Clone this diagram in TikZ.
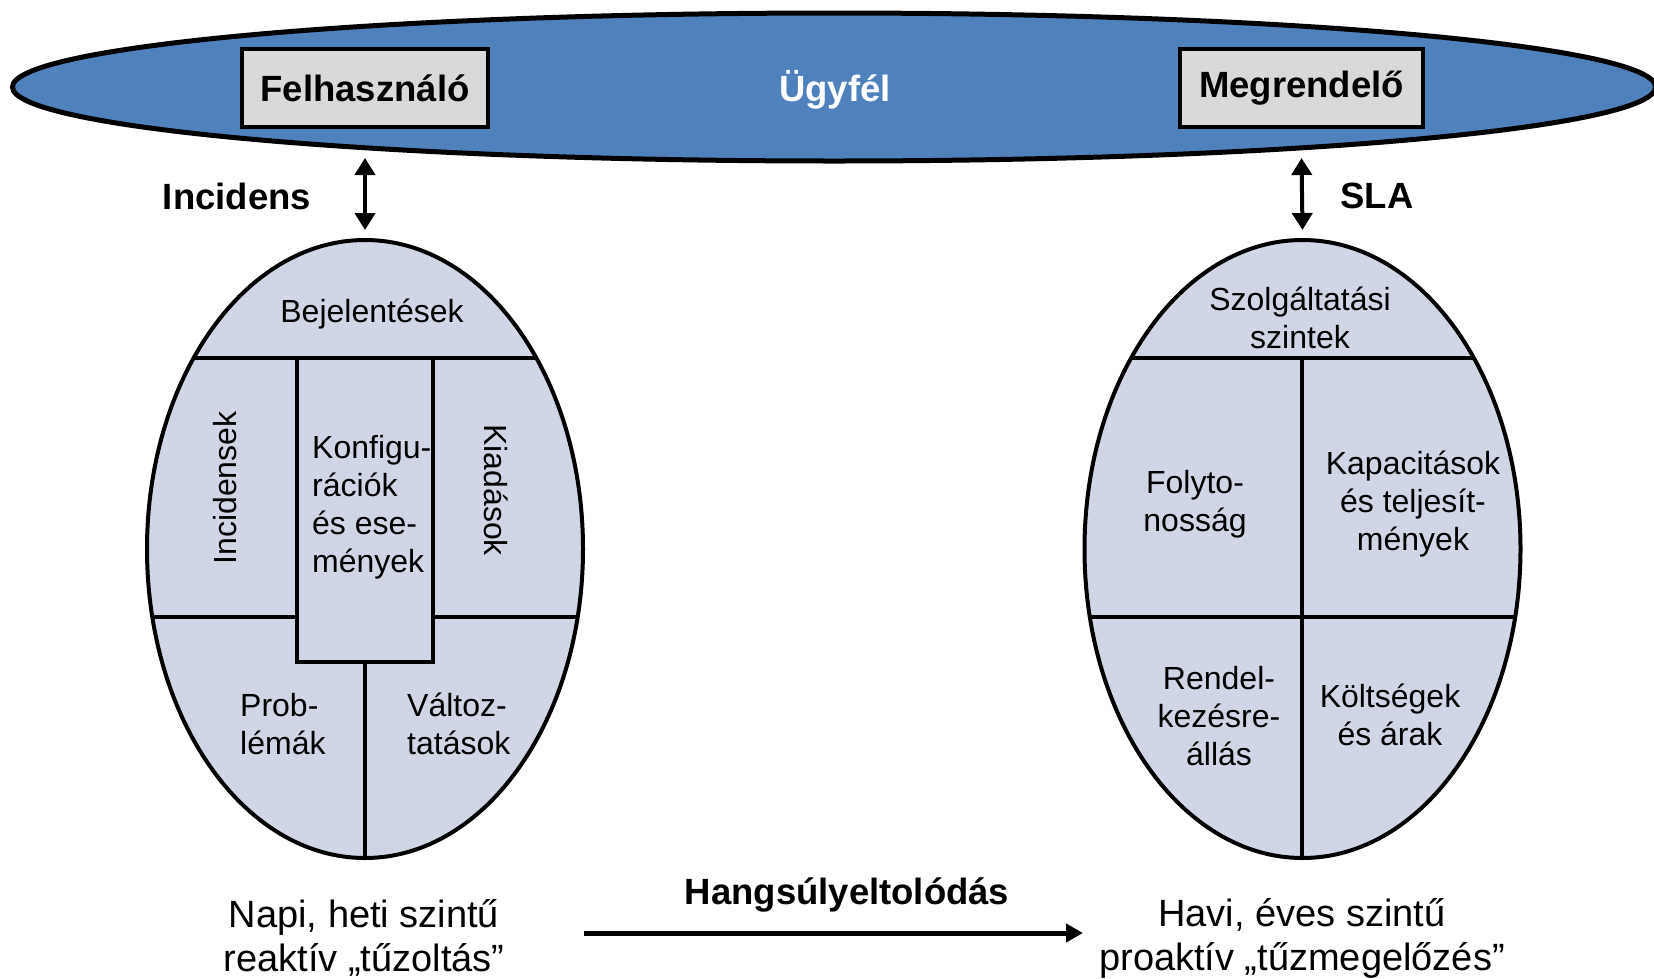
\documentclass[tikz,border=0pt]{standalone}
\usepackage{fontspec}
\setmainfont{Liberation Sans}
\usetikzlibrary{shapes.geometric,arrows.meta}
\definecolor{ublue}{RGB}{79,129,189}
\definecolor{ovfill}{RGB}{208,214,229}
\definecolor{boxgray}{RGB}{217,217,217}
\begin{document}
\begin{tikzpicture}[x=1pt,y=-1pt,
  bigoval/.style={ellipse, draw, line width=4pt, fill=ovfill, minimum width=436pt, minimum height=618pt, inner sep=0pt},
  divline/.style={line width=4pt},
  rolebox/.style={draw, line width=4pt, fill=boxgray, minimum width=246pt, minimum height=78pt, inner sep=0pt, font=\bfseries\fontsize{36.5}{40}\selectfont},
  lbl/.style={font=\fontsize{32}{38}\selectfont, inner sep=0pt, align=center},
  lbll/.style={font=\fontsize{32}{38}\selectfont, inner sep=0pt, align=left, anchor=west},
  boldlbl/.style={font=\bfseries\fontsize{36.5}{40}\selectfont, inner sep=0pt},
  btxt/.style={font=\fontsize{38}{44}\selectfont, inner sep=0pt, align=center},
  dblarrow/.style={line width=4pt, {Triangle[length=17pt,width=20pt]}-{Triangle[length=17pt,width=20pt]}},
  shiftarrow/.style={line width=5pt, -{Triangle[length=17pt,width=18pt]}}
]
\useasboundingbox (0,0) rectangle (1654,978);

% customer ellipse
\node[ellipse, draw, line width=5pt, fill=ublue, minimum width=1643pt, minimum height=148pt, inner sep=0pt] (U) at (834,87) {};
\node[boldlbl, text=white] (Ut) at (835,90) {Ügyfél};
\node[rolebox] (F) at (365,88) {Felhasználó};
\node[rolebox, minimum width=243pt] (M) at (1301.5,88) {Megrendelő};

% left oval
\node[bigoval] (L) at (365,549) {};
\begin{scope}
  \clip (L.center) ellipse [x radius=218pt, y radius=309pt];
  \draw[divline] (100,358) -- (700,358);
  \draw[divline] (100,617) -- (297,617);
  \draw[divline] (433,617) -- (700,617);
  \draw[divline] (365,662) -- (365,900);
\end{scope}
\node[draw, line width=4pt, fill=ovfill, minimum width=136pt, minimum height=304pt, inner sep=0pt] (K) at (365,510) {};
\node[lbl] (bej) at (372,314) {Bejelentések};
\node[lbl, rotate=90] (inc) at (225,488) {Incidensek};
\node[lbl, rotate=-90] (kia) at (496,490) {Kiadások};
\node[lbll] (kon) at (312,507) {Konfigu-\\rációk\\és ese-\\mények};
\node[lbll] (pro) at (240,724) {Prob-\\lémák};
\node[lbll] (val) at (407,724) {Változ-\\tatások};

% right oval
\node[bigoval] (R) at (1302.5,549) {};
\begin{scope}
  \clip (R.center) ellipse [x radius=218pt, y radius=309pt];
  \draw[divline] (1000,358) -- (1600,358);
  \draw[divline] (1000,617) -- (1600,617);
  \draw[divline] (1302,358) -- (1302,900);
\end{scope}
\node[lbl] (szo) at (1300,318) {Szolgáltatási\\szintek};
\node[lbl] (fol) at (1195,504) {Folyto-\\nosság};
\node[lbl] (kap) at (1413,504) {Kapacitások\\és teljesít-\\mények};
\node[lbl] (ren) at (1219,716) {Rendel-\\kezésre-\\állás};
\node[lbl] (kol) at (1390,715) {Költségek\\és árak};

% arrows between customer and ovals
\draw[dblarrow] ([yshift=-29pt]F.south) -- ([yshift=8pt]L.north);
\draw[dblarrow] ([yshift=-29pt]M.south) -- ([yshift=8pt]R.north);
\node[boldlbl] (inclbl) at (237,196) {Incidens};
\node[boldlbl] (slalbl) at (1377,196) {SLA};

% bottom
\node[btxt] (napi) at (364,938) {Napi, heti szintű\\reaktív „tűzoltás”};
\node[btxt] (havi) at (1302,938) {Havi, éves szintű\\proaktív „tűzmegelőzés”};
\node[boldlbl] (hang) at (847,895) {Hangsúlyeltolódás};
\coordinate (s1) at (584,933);
\coordinate (s2) at (1083,933);
\draw[shiftarrow] (s1) -- (s2);
\end{tikzpicture}
\end{document}
